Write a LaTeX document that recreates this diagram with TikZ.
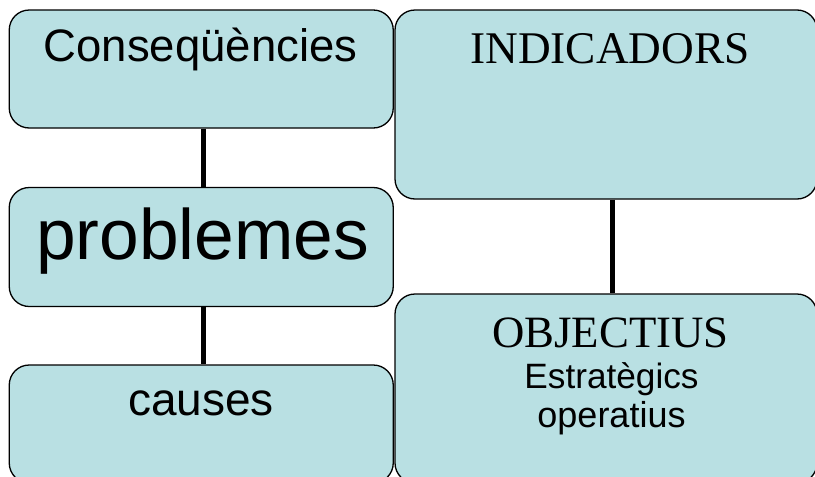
\documentclass[tikz,border=0pt]{standalone}
\usepackage{fontspec}
\setmainfont{Liberation Sans}
\newfontfamily\timesfont{Liberation Serif}
\definecolor{boxfill}{RGB}{185,224,227}
\begin{document}
\begin{tikzpicture}[x=1pt,y=-1pt,
  boxnode/.style={draw=black,line width=1.3pt,fill=boxfill,rounded corners=20pt,rectangle,inner sep=0pt},
  txt/.style={anchor=base,inner sep=0pt},
  conn/.style={line width=5pt,black}]
\clip (0,0) rectangle (815,477);
\fill[white] (0,0) rectangle (815,477);
% boxes
\node[boxnode,minimum width=384pt,minimum height=118pt] (cons) at (201.25,69) {};
\node[boxnode,minimum width=384pt,minimum height=119pt] (prob) at (201.25,247) {};
\node[boxnode,minimum width=384pt,minimum height=118pt] (caus) at (201.25,424) {};
\node[boxnode,minimum width=422pt,minimum height=189pt] (ind) at (606,104.5) {};
\node[boxnode,minimum width=422pt,minimum height=189pt] (obj) at (606,388.5) {};
% connectors
\draw[conn] ([xshift=2pt]cons.south) -- ([xshift=2pt]prob.north);
\draw[conn] ([xshift=2pt]prob.south) -- ([xshift=2pt]caus.north);
\draw[conn] ([xshift=6pt]ind.south) -- ([xshift=6pt]obj.north);
% texts
\node[txt,font=\fontsize{45.5}{45.5}\selectfont] (tcons) at (200.5,61) {Conseqüències};
\node[txt,font=\fontsize{71.3}{71.3}\selectfont] (tprob) at (202.5,259) {problemes};
\node[txt,font=\fontsize{46}{46}\selectfont] (tcaus) at (201,415) {causes};
\node[txt,font=\timesfont\fontsize{45.3}{45.3}\selectfont] (tind) at (610,63) {INDICADORS};
\node[txt,font=\timesfont\fontsize{44.8}{44.8}\selectfont] (tobj) at (610.5,347) {OBJECTIUS};
\node[txt,font=\fontsize{35.2}{35.2}\selectfont] (test) at (611.5,388) {Estratègics};
\node[txt,font=\fontsize{36}{36}\selectfont] (tope) at (611.5,427) {operatius};
\end{tikzpicture}
\end{document}
